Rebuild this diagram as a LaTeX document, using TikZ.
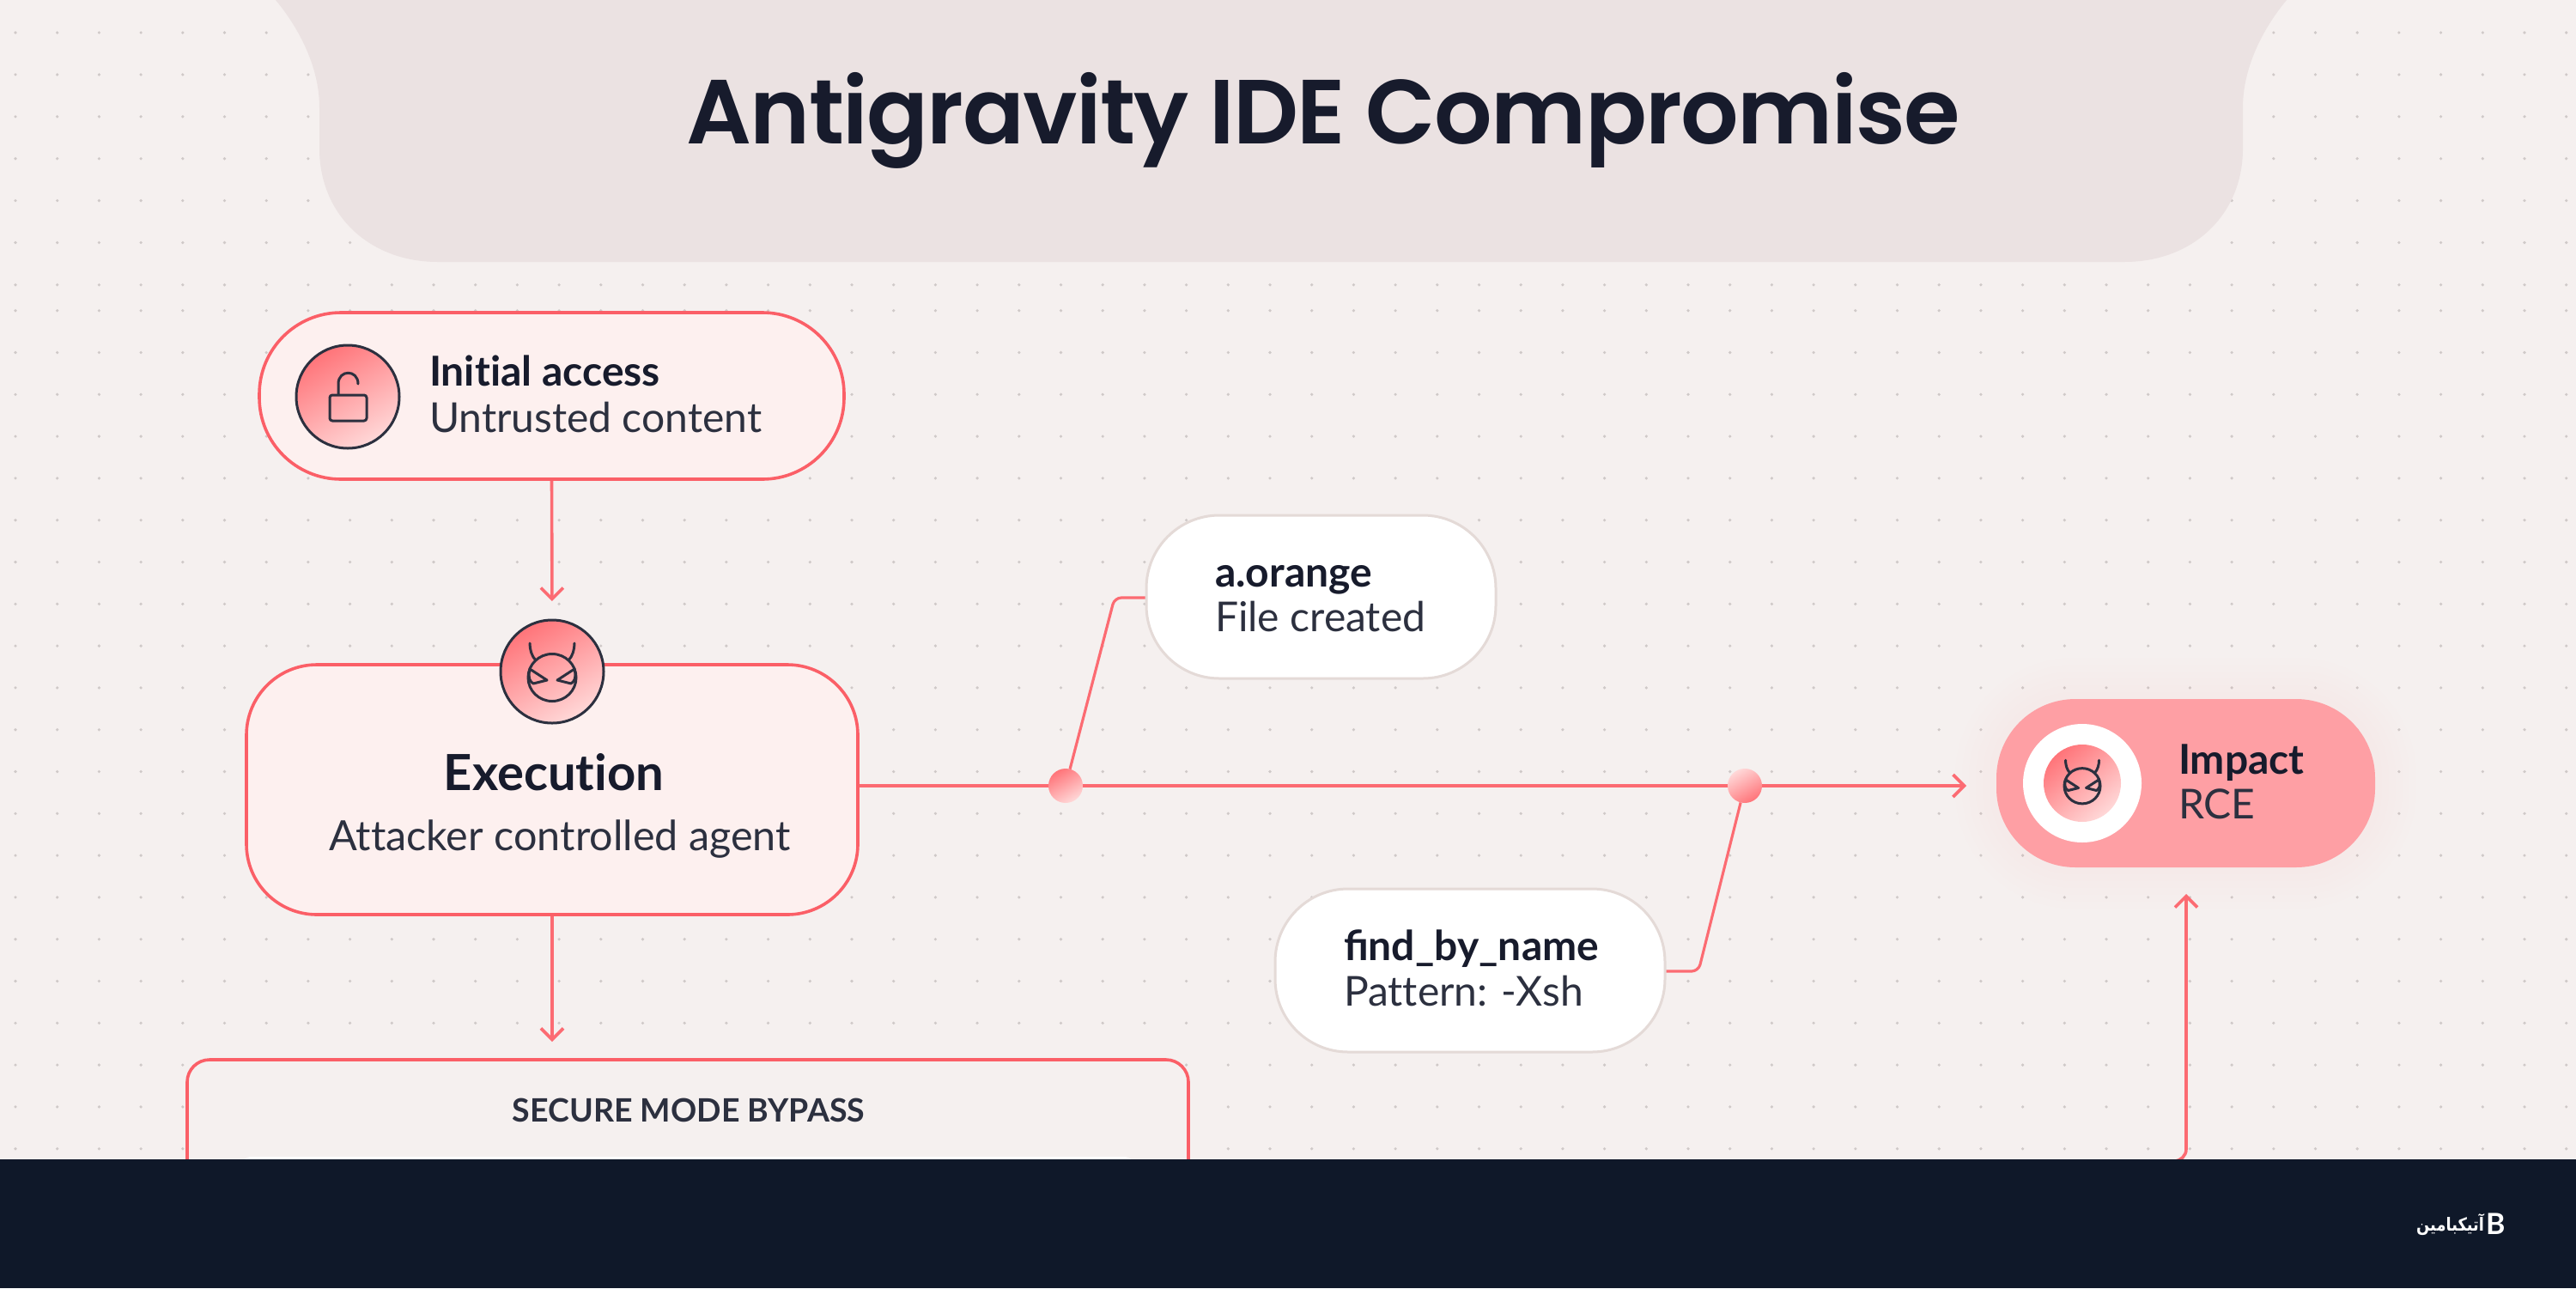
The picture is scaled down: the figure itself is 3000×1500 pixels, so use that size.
\documentclass[tikz,border=0pt]{standalone}
\usepackage{fontspec}
\setmainfont{Lato}[Ligatures=NoCommon]
\newfontfamily\titlefont{Poppins}[UprightFont=* SemiBold,LetterSpace=-1.5]
\newfontfamily\arabicfont[Script=Arabic]{DejaVu Sans}
\TeXXeTstate=1
\usetikzlibrary{arrows.meta,backgrounds}
\definecolor{bgc}{HTML}{F5F0EF}
\definecolor{hdrc}{HTML}{EBE2E2}
\definecolor{dotc}{HTML}{CFC9C8}
\definecolor{redc}{HTML}{FB5F67}
\definecolor{linec}{HTML}{FC6B72}
\definecolor{pillc}{HTML}{FDF0EF}
\definecolor{inkc}{HTML}{171B2C}
\definecolor{ink2c}{HTML}{2C303F}
\definecolor{barc}{HTML}{0F1829}
\definecolor{impc}{HTML}{FE9FA4}
\definecolor{edgec}{HTML}{E4DAD7}
\definecolor{gradA}{HTML}{FF7479}
\definecolor{gradB}{HTML}{FFD8D8}
\pgfdeclarelayer{bgl}
\pgfdeclarelayer{conn}
\pgfsetlayers{bgl,conn,main}
\tikzset{
  x=1pt,y=-1pt,
  every node/.style={inner sep=0pt,outer sep=0pt},
  redbox/.style={draw=redc,line width=3.6pt,fill=pillc},
  whitepill/.style={draw=edgec,line width=3pt,fill=white,rounded corners=85pt},
  badge/.style={circle,draw=ink2c,line width=3pt,minimum size=120pt,top color=gradA,bottom color=gradB,shading angle=30},
  jdot/.style={circle,minimum size=40pt},
  conline/.style={draw=linec,line width=3.6pt},
  arrowline/.style={conline,-{Straight Barb[length=13pt,width=26pt,line width=3.6pt]}},
  thinline/.style={draw=linec,line width=3.2pt,rounded corners=8pt},
  head/.style={anchor=base west,text=inkc,font=\fontsize{48}{48}\selectfont\bfseries},
  sub/.style={anchor=base west,text=ink2c,font=\fontsize{48}{48}\selectfont},
  glyph/.style={draw=ink2c,line width=3pt,line cap=round,line join=round},
  devil/.pic={
    \draw[glyph] (0,7) ellipse [x radius=28,y radius=27.5];
    \draw[glyph] (-19,-13) .. controls (-24,-18) and (-26,-26) .. (-26,-33);
    \draw[glyph] (19,-13) .. controls (24,-18) and (26,-26) .. (26,-33);
    \draw[glyph] (-26,-3) -- (-6,10) -- (-22,14) .. controls (-27,11) and (-28,6) .. (-26,-3);
    \draw[glyph] (26,-3) -- (6,10) -- (22,14) .. controls (27,11) and (28,6) .. (26,-3);
  }
}
\begin{document}
\begin{tikzpicture}
\useasboundingbox (0,0) rectangle (3000,1500);
\begin{pgfonlayer}{bgl}
  \fill[bgc] (0,0) rectangle (3000,1500);
  \foreach \r in {38,86.9,135.8,184.7,233.6,282.5,331.7,361.7,410.5,459.3,508.1,556.9,605.7,654.5,703.3,752.1,800.9,849.7,898.5,947.3,996.1,1044.9,1093.7,1142.5,1191.3,1240.1,1288.9,1337.7}{
    \foreach \c in {0,...,61}{
      \fill[dotc] ({18+48.7*\c},\r) circle [radius=1.8];
    }
  }
  \fill[hdrc] (321,0) .. controls (350,35) and (372,80) .. (372,125) -- (372,173)
    .. controls (372,250) and (430,305) .. (510,305) -- (2474,305)
    .. controls (2554,305) and (2612,250) .. (2612,173) -- (2612,125)
    .. controls (2612,80) and (2634,35) .. (2663,0) -- cycle;
  \foreach \g in {48,40,32,24,16,8}{
    \fill[impc,opacity=0.007,rounded corners={90pt+\g*1pt}] (2325-\g,814-\g) rectangle (2766+\g,1010+\g);
  }
\end{pgfonlayer}

\node[anchor=base,text=inkc,font=\fontsize{106}{106}\titlefont] (title) at (1541,167) {Antigravity IDE Compromise};

% Initial access
\node[redbox,rounded corners=95pt,minimum width=681pt,minimum height=194pt] (init) at (642.5,461) {};
\node[badge] (initicon) at (405,462) {};
\draw[glyph] (384,460) [rounded corners=3pt] rectangle (427,490);
\draw[glyph] (394,459) -- (394,447) .. controls (394,430) and (417,430) .. (417,447);
\node[head] (inithead) at (500,449) {Initial access};
\node[sub] (initsub) at (500,503) {Untrusted content};

% Execution
\node[redbox,rounded corners=82pt,minimum width=712pt,minimum height=291pt] (exec) at (643,919.5) {};
\node[badge] (execicon) at (643,782) {};
\pic at (643,782) {devil};
\node[anchor=base,text=inkc,font=\fontsize{58}{58}\selectfont\bfseries] (exechead) at (645,920) {Execution};
\node[anchor=base,text=ink2c,font=\fontsize{48.5}{48.5}\selectfont] (execsub) at (652,990) {Attacker controlled agent};

% Pills on the main line
\coordinate (mainend) at (2290,915);
\node[jdot,top color=gradA,bottom color=gradB,shading angle=30] (dotA) at (1241,915) {};
\node[jdot,top color=gradB,bottom color=gradA,shading angle=30] (dotB) at (2032,915) {};
\node[whitepill,minimum width=407pt,minimum height=190pt] (orange) at (1538.5,695) {};
\node[head] (orangehead) at (1415,683) {a.orange};
\node[sub] (orangesub) at (1415,735) {File created};
\node[whitepill,minimum width=454pt,minimum height=190pt] (find) at (1712,1130) {};
\node[head] (findhead) at (1565,1118) {ﬁnd\_by\_name};
\node[sub] (findsub) at (1565,1171) {Pattern: -Xsh};

% Impact
\node[fill=impc,rounded corners=92pt,minimum width=441pt,minimum height=196pt] (impact) at (2545.5,912) {};
\node[circle,fill=white,minimum size=138pt] (impring) at (2425,912) {};
\node[circle,top color=gradA,bottom color=gradB,shading angle=40,minimum size=90pt] (impicon) at (2425,912) {};
\pic[scale=0.75] at (2425,910) {devil};
\node[head] (imphead) at (2537,901) {Impact};
\node[sub] (impsub) at (2537,953) {RCE};

% Secure mode box
\node[draw=redc,line width=3.6pt,fill=bgc,rounded corners=26pt,minimum width=1166pt,minimum height=260pt,anchor=north west] (secure) at (218,1234) {};
\node[anchor=base,text=ink2c,font=\fontsize{37.5}{37.5}\selectfont\bfseries] (securehead) at (802,1306) {SECURE MODE BYPASS};
\node[fill=white,rounded corners=14pt,minimum width=1044pt,minimum height=120pt,anchor=north west] (secureinner) at (279,1347) {};

\coordinate (under) at (2500,1352);
\begin{pgfonlayer}{conn}
  \draw[arrowline,shorten >=22pt] (init.south) -- (execicon.north);
  \draw[arrowline,shorten >=21pt] (exec.south) -- (secure.north -| exec.south);
  \draw[conline] (exec.east |- dotA) -- (dotA) -- (dotB);
  \draw[arrowline] (dotB) -- (mainend);
  \draw[thinline] (orange.west |- 0,696) -- (1298,696) -- (dotA);
  \draw[thinline] (find.east |- 0,1131) -- (1978,1131) -- (dotB);
  \draw[conline,rounded corners=14pt] (under) -- (2546,1352) -- (2546,1060);
  \draw[arrowline] (2546,1060) -- (2546,1041);
\end{pgfonlayer}

% Footer bar
\fill[barc] (0,1350) rectangle (3000,1500);
\node[anchor=east,text=white,xscale=0.85,transform shape,font=\fontsize{21}{21}\arabicfont\bfseries] (brand) at (2893,1426) {\beginR آتیکبامین\endR};
\node[anchor=west,text=white,font=\fontsize{34}{34}\selectfont\bfseries] (brandmark) at (2895,1425) {B};
\end{tikzpicture}
\end{document}
